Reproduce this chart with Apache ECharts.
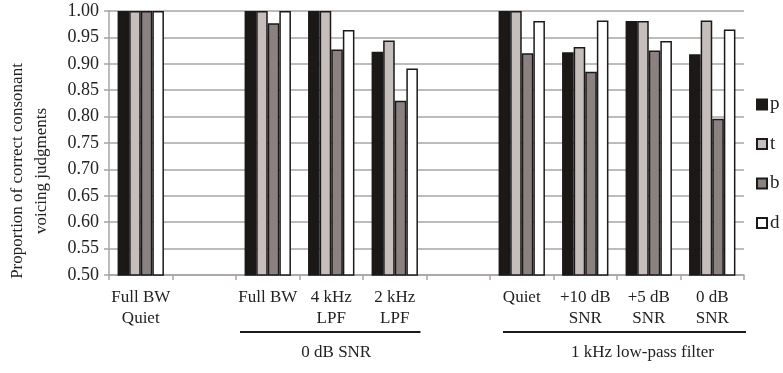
<!DOCTYPE html>
<html><head><meta charset="utf-8">
<script src="https://cdn.jsdelivr.net/npm/echarts@6/dist/echarts.min.js"></script>
<style>html,body{margin:0;padding:0;background:#fff}#c{width:783px;height:373px}</style>
</head><body><div id="c"></div>
<script>
// ---- data ----
const categories = ['Full BW\nQuiet', '', 'Full BW', '4 kHz\nLPF', '2 kHz\nLPF', '', 'Quiet', '+10 dB\nSNR', '+5 dB\nSNR', '0 dB\nSNR'];
const seriesNames = ['p', 't', 'b', 'd'];
const pValues = [1.000, '-', 1.000, 1.000, 0.923, '-', 1.000, 0.922, 0.981, 0.918];
const tValues = [1.000, '-', 1.000, 1.000, 0.944, '-', 1.000, 0.932, 0.981, 0.982];
const bValues = [1.000, '-', 0.977, 0.927, 0.830, '-', 0.920, 0.885, 0.925, 0.796];
const dValues = [1.000, '-', 1.000, 0.964, 0.891, '-', 0.981, 0.982, 0.943, 0.965];
const yMin = 0.5, yMax = 1.0, yInterval = 0.05;
const yTitle = 'Proportion of correct consonant\nvoicing judgments';
const groupLabels = ['0 dB SNR', '1 kHz low-pass filter'];
const groupRanges = [[2, 4], [6, 9]];

// ---- styles ----
const FONT = '"Liberation Serif", "Times New Roman", serif';
const fills = ['#1b1816', '#c6bebb', '#8b827f', '#ffffff'];
const gridGray = '#a9a4a2';
const values = [pValues, tValues, bValues, dValues];

const chart = echarts.init(document.getElementById('c'), null, {renderer: 'canvas'});
const option = {
  backgroundColor: '#fff',
  animation: false,
  grid: {left: 109, right: 39, top: 11, bottom: 98, containLabel: false, outerBoundsMode: 'none'},
  legend: {
    orient: 'vertical', left: 751, top: 90,
    itemWidth: 10, itemHeight: 10, itemGap: 20.5,
    icon: 'rect',
    data: seriesNames,
    textStyle: {fontFamily: FONT, fontSize: 19, color: '#222', lineHeight: 19, padding: [0, 0, 0, -2]}
  },
  xAxis: {
    type: 'category', data: categories,
    axisLine: {show: true, lineStyle: {color: gridGray, width: 1.5}},
    axisTick: {show: true, interval: 0, length: 5, lineStyle: {color: gridGray, width: 1.5}},
    axisLabel: {interval: 0, fontFamily: FONT, fontSize: 17, lineHeight: 21, color: '#222', margin: 12},
    splitLine: {show: false}
  },
  yAxis: {
    type: 'value', min: yMin, max: yMax, interval: yInterval,
    axisLine: {show: true, lineStyle: {color: gridGray, width: 1.5}},
    axisTick: {show: true, length: 5, lineStyle: {color: gridGray, width: 1.5}},
    axisLabel: {fontFamily: FONT, fontSize: 18, color: '#222', margin: 10, formatter: v => v.toFixed(2)},
    splitLine: {show: true, lineStyle: {color: gridGray, width: 1.5}}
  },
  series: seriesNames.map((n, i) => ({
    name: n, type: 'bar', data: values[i],
    barGap: '0%', barCategoryGap: '27%',
    itemStyle: {color: fills[i], borderColor: '#1a1a1a', borderWidth: 1.5}
  }))
};
chart.setOption(option);

// group annotation brackets, positioned from the axis scale
const c0 = chart.convertToPixel({xAxisIndex: 0}, 0);
const c1 = chart.convertToPixel({xAxisIndex: 0}, 1);
const cw = c1 - c0;
const insets = [[-4, -6], [-13, 2]];
const textDx = [6, 18];
const graphics = [];
groupRanges.forEach((r, gi) => {
  const x1 = chart.convertToPixel({xAxisIndex: 0}, r[0]) - cw / 2 - insets[gi][0];
  const x2 = chart.convertToPixel({xAxisIndex: 0}, r[1]) + cw / 2 + insets[gi][1];
  graphics.push({type: 'line', shape: {x1: x1, y1: 332, x2: x2, y2: 332}, style: {stroke: '#1a1a1a', lineWidth: 2}});
  graphics.push({type: 'text', x: (x1 + x2) / 2 + textDx[gi], y: 353,
    style: {text: groupLabels[gi], font: '17px ' + FONT, fill: '#222', textAlign: 'center', textVerticalAlign: 'middle'}});
});
graphics.push({type: 'text', x: 30, y: 171, rotation: Math.PI / 2,
  style: {text: yTitle, font: '17px ' + FONT, lineHeight: 24, fill: '#222', textAlign: 'center', textVerticalAlign: 'middle'}});
chart.setOption({graphic: graphics});
</script>
</body></html>
